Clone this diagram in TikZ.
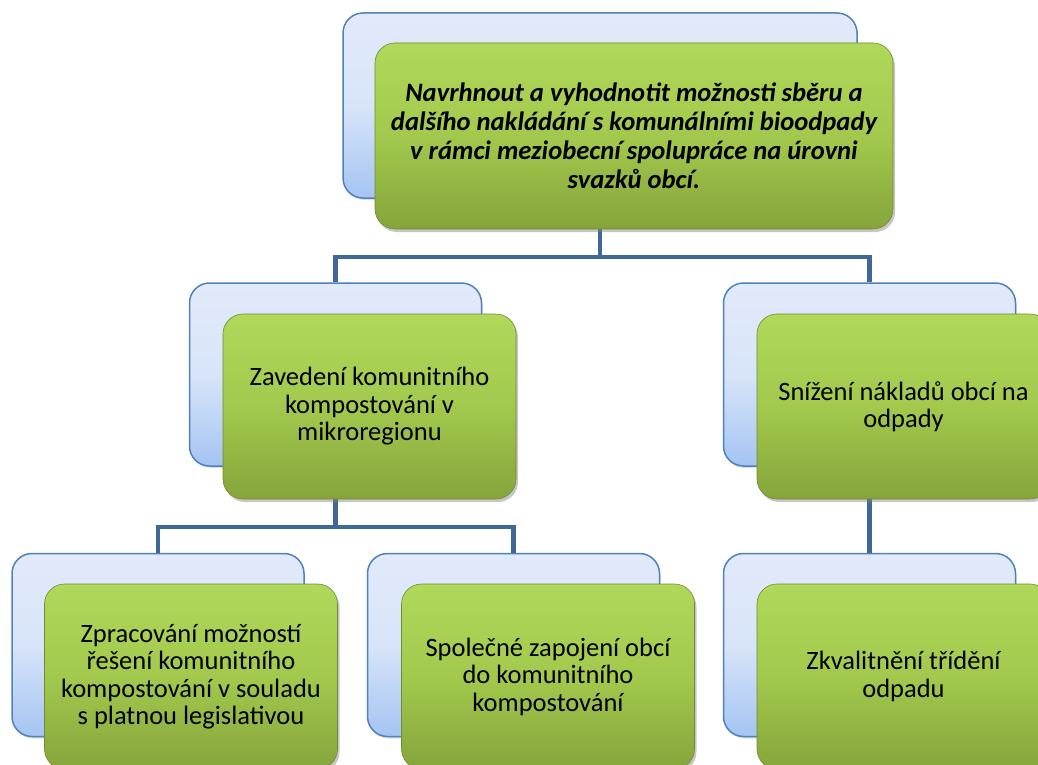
\documentclass[tikz,border=0pt]{standalone}
\usepackage{fontspec}
\setmainfont{Carlito}
\usetikzlibrary{shadows,backgrounds}

\definecolor{backline}{HTML}{4F81BD}
\definecolor{backtop}{HTML}{E1EAFA}
\definecolor{backbot}{HTML}{A4C4F2}
\definecolor{goaltop}{HTML}{B0D85A}
\definecolor{goalmid}{HTML}{A2C94D}
\definecolor{goalbot}{HTML}{86A43B}
\definecolor{linkblue}{HTML}{3F6899}

\tikzset{
  backbox/.style={draw=backline, line width=1.5pt, rounded corners=20pt,
    top color=backtop, bottom color=backbot, middle color=backtop!85!backbot,
    minimum width=292pt, minimum height=183pt, inner sep=0pt,
    drop shadow={opacity=0.25, shadow xshift=1pt, shadow yshift=-2pt}},
  goalbox/.style={draw=goalbot!85!black, line width=0.6pt, rounded corners=20pt,
    top color=goaltop, bottom color=goalbot, middle color=goalmid,
    minimum width=293pt, minimum height=185pt, inner sep=0pt, align=center,
    font=\fontsize{26.5}{27.5}\selectfont,
    drop shadow={opacity=0.45, shadow xshift=2pt, shadow yshift=-3pt}},
  link/.style={draw=linkblue, line width=4.5pt},
}

\begin{document}
\begin{tikzpicture}[x=1pt, y=-1pt]
  \useasboundingbox (0,0) rectangle (1038,765);
  \clip (0,0) rectangle (1038,765);

  % top goal
  \node[backbox, minimum width=514pt, minimum height=185pt] (topback) at (600,105.5) {};
  \node[goalbox, minimum width=518pt, minimum height=186pt,
    font=\fontsize{26.6}{29}\selectfont\bfseries\itshape] (topgoal) at (634,136)
    {Navrhnout a vyhodnotit možnosti sběru a\\
     dalšího nakládání s komunálními bioodpady\\
     v rámci meziobecní spolupráce na úrovni\\
     svazků obcí.};

  % second row
  \node[backbox] (leftback) at (335.5,374.5) {};
  \node[goalbox] (leftgoal) at (369.5,406.5)
    {Zavedení komunitního\\ kompostování v\\ mikroregionu};
  \node[backbox] (rightback) at (869.5,374.5) {};
  \node[goalbox] (rightgoal) at (903.5,406.5)
    {Snížení nákladů obcí na\\ odpady};

  % third row
  \node[backbox] (llback) at (158,645) {};
  \node[goalbox] (llgoal) at (191,676.5)
    {Zpracování možností\\ řešení komunitního\\ kompostování v souladu\\ s platnou legislativou};
  \node[backbox] (lrback) at (513.5,645) {};
  \node[goalbox] (lrgoal) at (548,676.5)
    {Společné zapojení obcí\\ do komunitního\\ kompostování};
  \node[backbox] (rrback) at (869.5,645) {};
  \node[goalbox] (rrgoal) at (903.5,676.5)
    {Zkvalitnění třídění\\ odpadu};

  % connectors
  \begin{pgfonlayer}{background}
    \draw[link] (topback.south) -- ++(0,58) -| (leftback.north);
    \draw[link] (topback.south) -- ++(0,58) -| (rightback.north);
    \draw[link] (leftback.south) -- ++(0,60) -| (llback.north);
    \draw[link] (leftback.south) -- ++(0,60) -| (lrback.north);
    \draw[link] (rightback.south) -- (rrback.north);
  \end{pgfonlayer}
\end{tikzpicture}
\end{document}
